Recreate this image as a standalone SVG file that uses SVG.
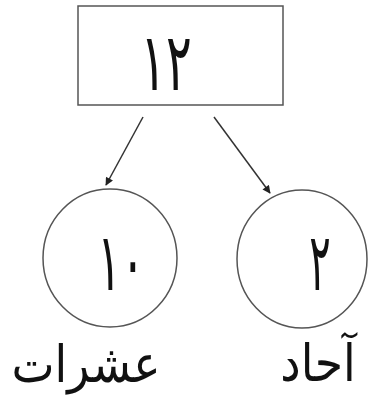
<svg xmlns="http://www.w3.org/2000/svg" width="372" height="403" viewBox="0 0 372 403">
<style>
.n{fill:#fff;stroke:#555;stroke-width:1.5}
.t{font-family:"DejaVu Sans",sans-serif;fill:#111;text-anchor:middle}
.d{font-size:80px}
.l{font-size:52px}
.c{stroke:#333;stroke-width:1.5;fill:none;marker-end:url(#ah)}
</style>
<defs>
<marker id="ah" viewBox="0 0 10 10" refX="9" refY="5" markerWidth="9" markerHeight="8" orient="auto" markerUnits="userSpaceOnUse" >
<path d="M0,0 L10,5 L0,10 z" fill="#222"/>
</marker>
</defs>
<rect width="372" height="403" fill="#fff"/>
<g id="top">
<rect class="n" x="78" y="6" width="205" height="99"/>
<text class="t d" transform="translate(166,90) scale(0.6,1)">١٢</text>
</g>
<g id="tens">
<ellipse class="n" cx="110" cy="258" rx="67" ry="69"/>
<text class="t d" transform="translate(121,290) scale(0.55,1)">١٠</text>
<text class="t l" transform="translate(86,382) scale(0.88,1)" direction="rtl">عشرات</text>
</g>
<g id="ones">
<ellipse class="n" cx="302" cy="259" rx="65" ry="69"/>
<text class="t d" transform="translate(320,290) scale(0.5,1)">٢</text>
<text class="t l" transform="translate(318,381) scale(0.88,1)" direction="rtl">آحاد</text>
</g>
<g id="connectors">
<line class="c" x1="143" y1="117" x2="106" y2="185"/>
<line class="c" x1="214" y1="117" x2="270" y2="193"/>
</g>
</svg>
